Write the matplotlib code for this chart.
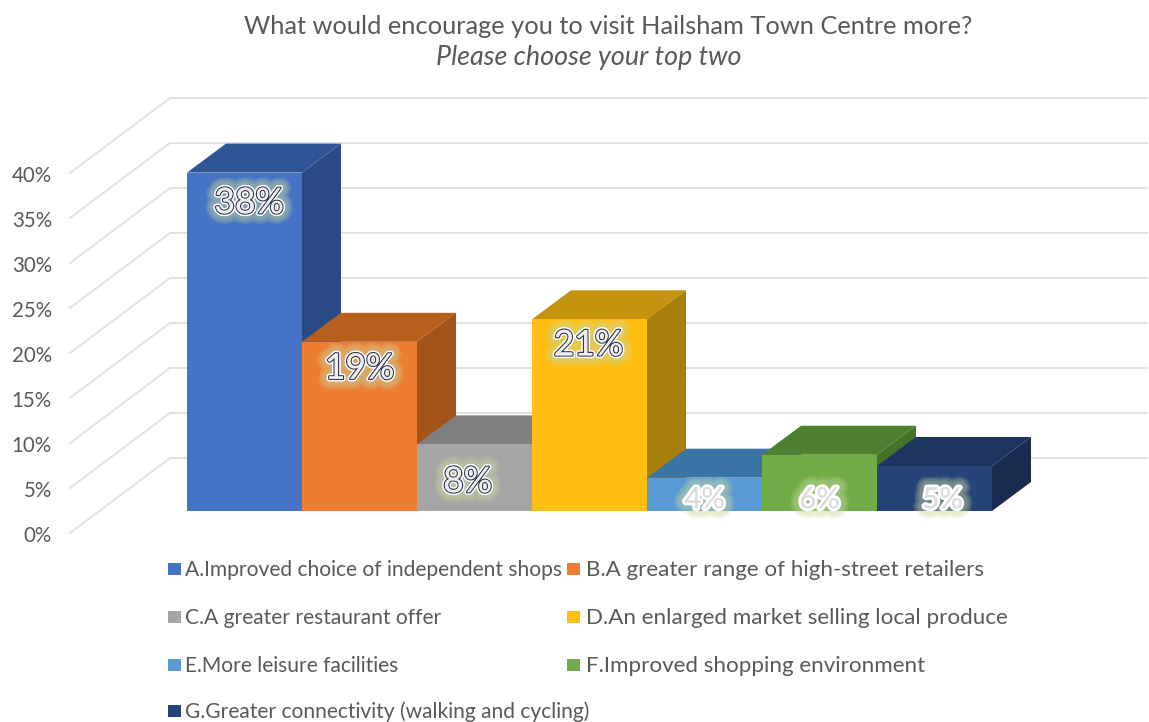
import matplotlib
matplotlib.use("Agg")
import matplotlib.pyplot as plt
import matplotlib.patheffects as pe
from matplotlib.patches import Polygon, Rectangle

# values
categories = ["A.Improved choice of independent shops",
              "B.A greater range of high-street retailers",
              "C.A greater restaurant offer",
              "D.An enlarged market selling local produce",
              "E.More leisure facilities",
              "F.Improved shopping environment",
              "G.Greater connectivity (walking and cycling)"]
values = [37.6, 18.8, 7.4, 21.3, 3.7, 6.25, 5.0]
value_labels = ["38%", "19%", "8%", "21%", "4%", "6%", "5%"]
ticks = [0, 5, 10, 15, 20, 25, 30, 35, 40]
tick_labels = ["0%", "5%", "10%", "15%", "20%", "25%", "30%", "35%", "40%"]

front_colors = ["#4472C4", "#ED7D31", "#A5A5A5", "#FFBE10", "#5B9BD5", "#70AD47", "#264478"]
top_colors = ["#2F5597", "#B85F1E", "#7F7F7F", "#C49410", "#3A74A5", "#4E8030", "#1D3560"]
side_colors = ["#2A4A85", "#A35219", "#6E6E6E", "#A87F0A", "#325F8C", "#43742A", "#192C50"]

W, H = 1149, 722
PX_X = 115.0  # pixels per category
PX_Y = 9.0    # pixels per percent
X0, Y0 = 187.0, 511.0

plt.rcParams['font.family'] = ['Lato', 'DejaVu Sans']
fig = plt.figure(figsize=(W / 100, H / 100), dpi=100)
ax = fig.add_axes([0, 0, 1, 1])
ax.set_xlim(-X0 / PX_X, (W - X0) / PX_X)
ax.set_ylim(-(H - Y0) / PX_Y, Y0 / PX_Y)
ax.axis("off")

# offsets of the 3d box, in data units
dx, dy = 39 / PX_X, 29 / PX_Y
wall_x, wall_y = (170 - X0) / PX_X, (511 - 458) / PX_Y
floor_x, floor_y = (70 - X0) / PX_X, (511 - 533) / PX_Y
right_x = (1147 - X0) / PX_X

grid = "#E2E2E2"
for t in ticks:
    ax.plot([floor_x, wall_x, right_x], [t + floor_y, t + wall_y, t + wall_y],
            color=grid, lw=1.4, zorder=1, solid_joinstyle="miter")
    ax.text((52 - X0) / PX_X, t + floor_y - 0.35, tick_labels[ticks.index(t)], ha="right", va="center",
            fontsize=14.8, color="#595959")

for i, v in enumerate(values):
    z = 2 + i
    ax.add_patch(Polygon([(i, v), (i + dx, v + dy), (i + 1 + dx, v + dy), (i + 1, v)],
                         fc=top_colors[i], ec="none", zorder=z))
    ax.add_patch(Polygon([(i + 1, 0), (i + 1 + dx, dy), (i + 1 + dx, v + dy), (i + 1, v)],
                         fc=side_colors[i], ec="none", zorder=z))
    ax.add_patch(Rectangle((i, 0), 1, v, fc=front_colors[i], ec="none", zorder=z))

# data labels with the glow around them
label_x = [0.54, 0.5, 0.44, 0.49, 0.5, 0.5, 0.57]
label_y = [34.2, 15.8, 3.2, 18.4, 1.2, 1.2, 1.2]
for i, lab in enumerate(value_labels):
    big = i < 4
    fx = [pe.withStroke(linewidth=w, foreground="#C9D8A0", alpha=0.2) for w in (15, 12, 9)]
    if big:
        fx += [pe.withStroke(linewidth=4, foreground="white"),
               pe.withStroke(linewidth=1.8, foreground="#33384E"), pe.Normal()]
    else:
        fx += [pe.withStroke(linewidth=4, foreground="white"), pe.Normal()]
    ax.text(i + label_x[i], label_y[i], lab, ha="center", va="center", zorder=20,
            fontsize=25.5 if big else 21, color="#EEEEEE" if big else "#DDDDDD", path_effects=fx)

fig.text(608.5 / W, 1 - 26 / H, "What would encourage you to visit Hailsham Town Centre more?",
         ha="center", va="center", fontsize=18.25, color="#595959")
fig.text(588.5 / W, 1 - 58 / H, "Please choose your top two", ha="center", va="center",
         fontsize=19.4, style="italic", color="#595959")

# legend, two columns
col_x = [168, 567]
col_text = [185, 586]
col_size = [15.1, 16.15]
row_y = [569, 617, 665, 711]
for i, name in enumerate(categories):
    x = col_x[i % 2]
    y = row_y[i // 2]
    fig.add_artist(Rectangle((x / W, 1 - (y + 6) / H), 13 / W, 12 / H, fc=front_colors[i], ec="none",
                             transform=fig.transFigure))
    fig.text(col_text[i % 2] / W, 1 - (y + 1) / H, name, ha="left", va="center",
             fontsize=col_size[i % 2], color="#595959")

fig.savefig("out.png", dpi=100)
